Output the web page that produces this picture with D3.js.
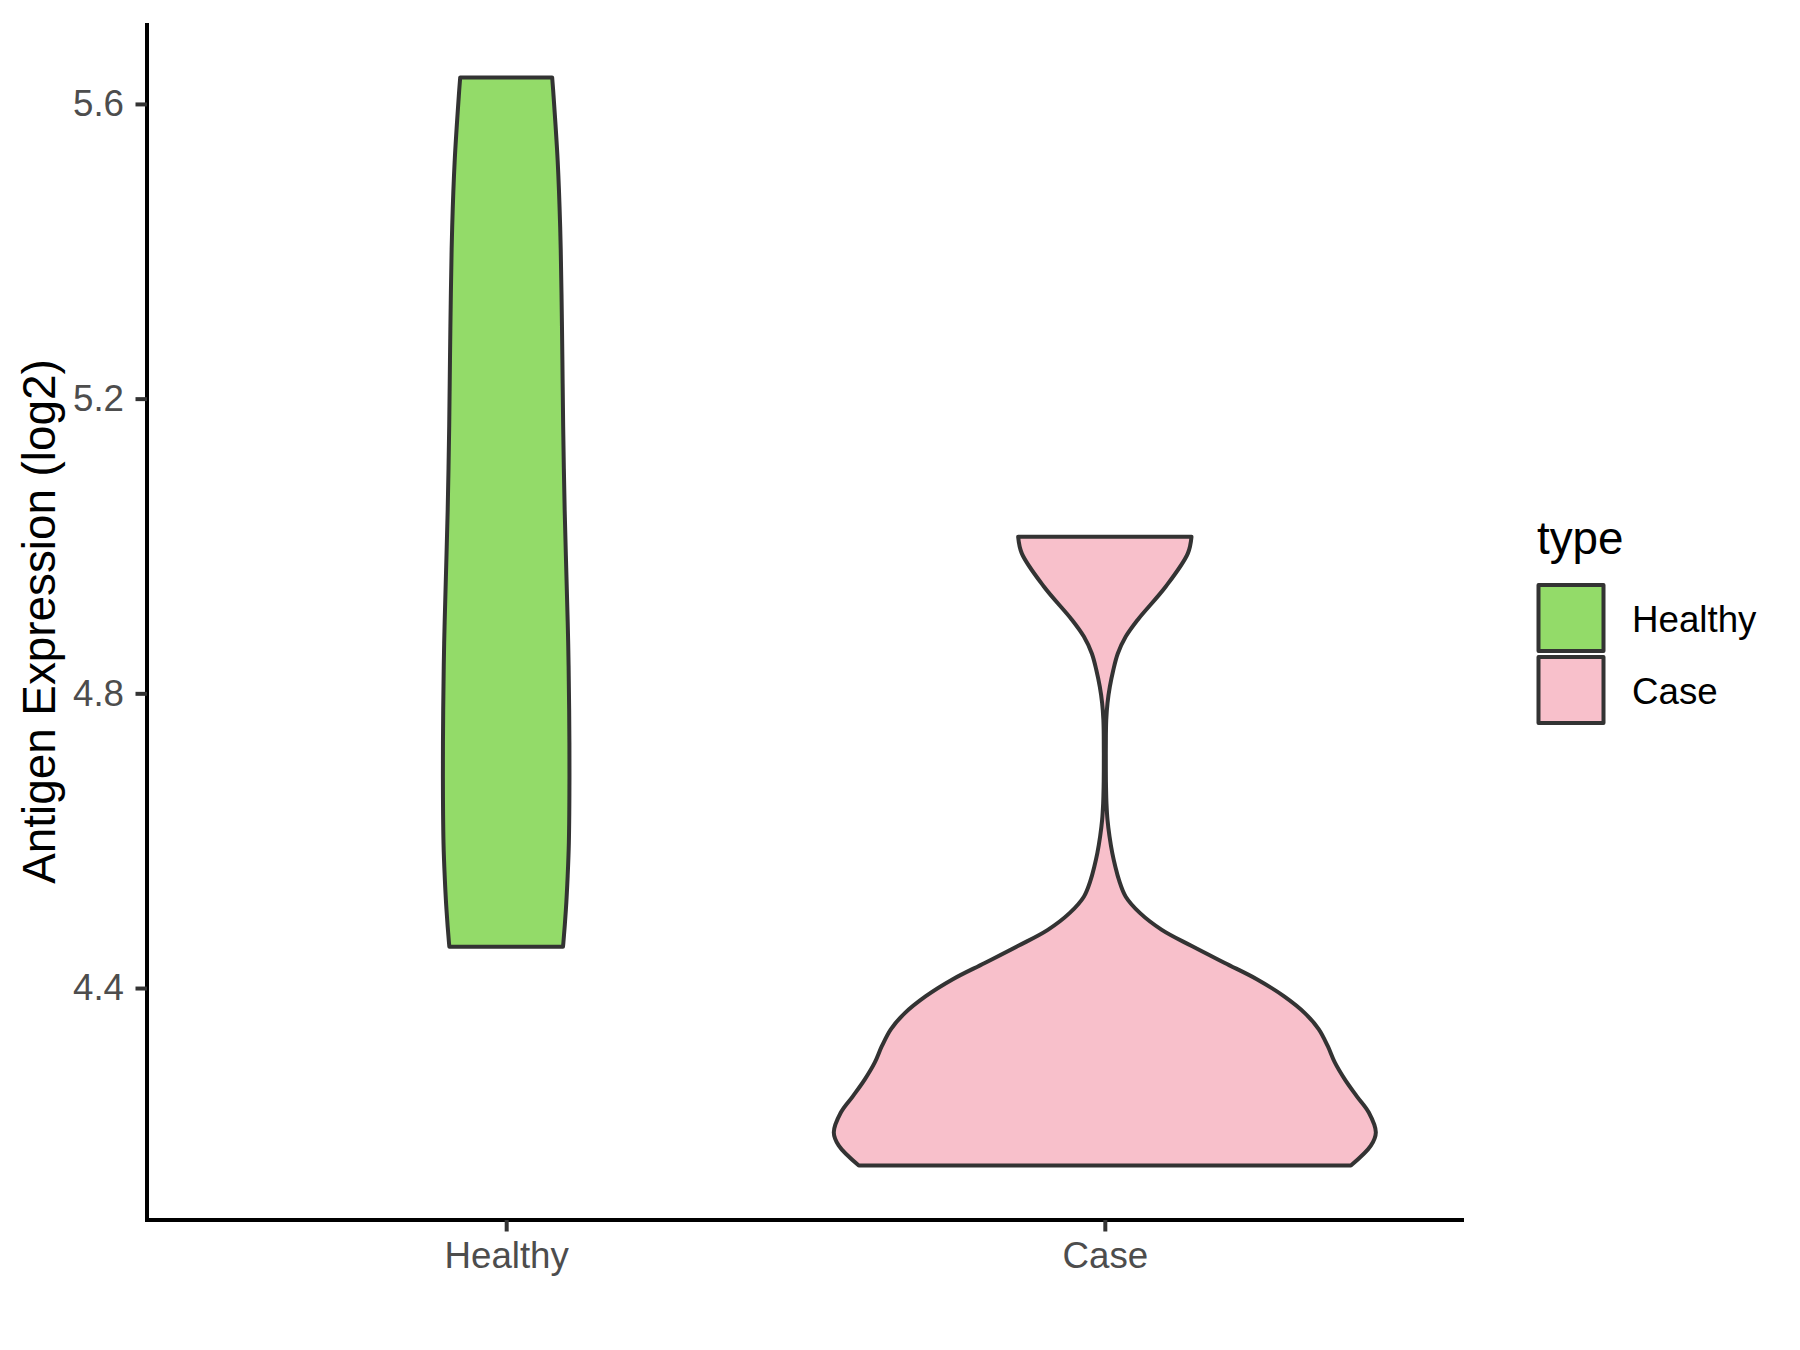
<!DOCTYPE html>
<html>
<head>
<meta charset="utf-8">
<script src="https://cdn.jsdelivr.net/npm/d3@7"></script>
<style>
  html, body { margin: 0; padding: 0; background: #ffffff; }
  svg { display: block; }
  text { font-family: "Liberation Sans", Arial, Helvetica, sans-serif; }
</style>
</head>
<body>
<svg id="chart" width="1800" height="1350"></svg>
<script>
// ---- data ----
const categories = ["Healthy", "Case"];
const fillColors = ["#93DB69", "#F8C0CB"];
const yTickValues = [4.4, 4.8, 5.2, 5.6];
const yLabel = "Antigen Expression (log2)";
const legendTitle = "type";

// violin profiles: expression value and half-width (in category-step units)
const healthyValues = [4.456, 4.462, 4.506, 4.552, 4.597, 4.687, 4.778, 4.868, 4.958, 5.049, 5.162, 5.252, 5.343, 5.433, 5.523, 5.6135, 5.636];
const healthyWidths = [0.0949, 0.0956, 0.0997, 0.1027, 0.1047, 0.1057, 0.1052, 0.1036, 0.1007, 0.0977, 0.0952, 0.0939, 0.0924, 0.0902, 0.0860, 0.0789, 0.0768];

const caseValues = [4.159, 4.186, 4.204, 4.231, 4.253, 4.276, 4.299, 4.321, 4.344, 4.366, 4.389, 4.412, 4.434, 4.457, 4.479, 4.502, 4.524, 4.547, 4.565, 4.583, 4.606, 4.628, 4.650, 4.673, 4.696, 4.742, 4.764, 4.787, 4.809, 4.831, 4.854, 4.877, 4.900, 4.945, 4.990, 5.0125];
const caseWidths  = [0.411, 0.4444, 0.4527, 0.441, 0.421, 0.4009, 0.3842, 0.3725, 0.3575, 0.3341, 0.299, 0.2539, 0.2005, 0.1453, 0.0952, 0.0585, 0.0350, 0.0235, 0.0175, 0.0125, 0.0078, 0.0045, 0.0028, 0.0020, 0.0017, 0.0018, 0.0024, 0.0045, 0.0084, 0.0140, 0.0217, 0.0350, 0.0551, 0.1019, 0.1387, 0.1448];

const violins = [
  { cat: "Healthy", values: healthyValues, widths: healthyWidths },
  { cat: "Case", values: caseValues, widths: caseWidths }
];

// ---- layout ----
const panel = { left: 147, right: 1464, top: 23, bottom: 1220 };
const svg = d3.select("#chart");

const allVals = healthyValues.concat(caseValues);
const vMin = d3.min(allVals), vMax = d3.max(allVals);
const span = vMax - vMin;
const y = d3.scaleLinear()
  .domain([vMin - 0.05 * span, vMax + 0.05 * span])
  .range([panel.bottom, panel.top]);

const x = d3.scalePoint()
  .domain(categories)
  .range([panel.left, panel.right])
  .padding(0.6);
const step = x.step();
const color = d3.scaleOrdinal().domain(categories).range(fillColors);

// ---- violins ----
violins.forEach(v => {
  const pts = v.values.map((val, i) => ({ val, w: v.widths[i] }));
  const cx = x(v.cat);
  const area = d3.area()
    .y(d => y(d.val))
    .x0(d => cx - d.w * step)
    .x1(d => cx + d.w * step)
    .curve(d3.curveCatmullRom.alpha(0.5));
  svg.append("path")
    .datum(pts)
    .attr("d", area)
    .attr("fill", color(v.cat))
    .attr("stroke", "#333333")
    .attr("stroke-width", 4)
    .attr("stroke-linejoin", "round");
});

// ---- axes ----
const yAxis = d3.axisLeft(y).tickValues(yTickValues).tickFormat(d3.format(".1f"))
  .tickSize(11.5).tickSizeOuter(0).tickPadding(11.5);
const gy = svg.append("g").attr("transform", `translate(${panel.left},0)`).call(yAxis);

const xAxis = d3.axisBottom(x).tickSize(11.5).tickSizeOuter(0).tickPadding(10);
const gx = svg.append("g").attr("transform", `translate(0,${panel.bottom})`).call(xAxis);

[gy, gx].forEach(g => {
  g.select(".domain").attr("stroke", "#000000").attr("stroke-width", 4);
  g.selectAll(".tick line").attr("stroke", "#333333").attr("stroke-width", 4);
  g.selectAll(".tick text")
    .attr("fill", "#4D4D4D")
    .style("font-size", "36.7px")
    .style("font-family", "'Liberation Sans', Arial, Helvetica, sans-serif");
});
// extend axis lines through the corner
gy.select(".domain").attr("d", `M0,${panel.bottom + 2}V${panel.top}`);
gx.select(".domain").attr("d", `M${panel.left - 2},0H${panel.right}`);

// y axis title
svg.append("text")
  .attr("transform", `translate(55,${(panel.top + panel.bottom) / 2}) rotate(-90)`)
  .attr("text-anchor", "middle")
  .attr("fill", "#000000")
  .style("font-size", "45.8px")
  .text(yLabel);

// ---- legend ----
const legend = svg.append("g");
legend.append("text")
  .attr("x", 1537).attr("y", 554)
  .attr("fill", "#000000")
  .style("font-size", "45.8px")
  .text(legendTitle);

const keySize = 72, keyTop = 582, keyLeft = 1535;
categories.forEach((c, i) => {
  const ky = keyTop + i * keySize;
  legend.append("rect")
    .attr("x", keyLeft + 3.5).attr("y", ky + 3)
    .attr("width", keySize - 7).attr("height", keySize - 6)
    .attr("fill", color(c))
    .attr("stroke", "#333333")
    .attr("stroke-width", 4)
    .attr("stroke-linejoin", "round");
  legend.append("text")
    .attr("x", 1632).attr("y", ky + keySize / 2 + 13.5)
    .attr("fill", "#000000")
    .style("font-size", "36.7px")
    .text(c);
});
</script>
</body>
</html>
